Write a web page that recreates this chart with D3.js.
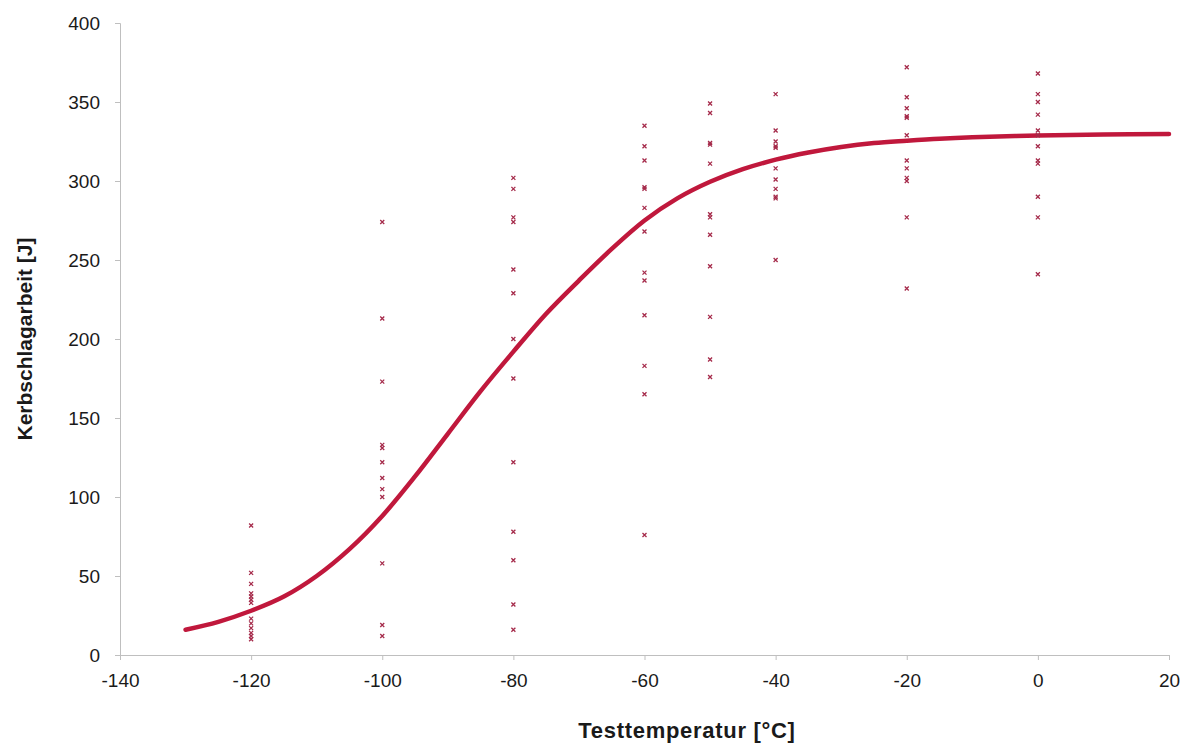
<!DOCTYPE html>
<html>
<head>
<meta charset="utf-8">
<script src="https://cdn.jsdelivr.net/npm/d3@7"></script>
<style>
    body { margin: 0; background: #fff; }
    text { font-family: "Liberation Sans", Arial, sans-serif; }
</style>
</head>
<body>
<svg id="chart" width="1191" height="745"></svg>
<script>
'use strict';

// measured impact energies per test temperature
var temps = [-120, -100, -80, -60, -50, -40, -20, 0];
var energies = [
    [82, 52, 45, 39, 37, 35, 33, 23, 20, 17, 14, 12, 10],
    [274, 213, 173, 133, 131, 122, 112, 105, 100, 58, 19, 12],
    [302, 295, 277, 274, 244, 229, 200, 175, 122, 78, 60, 32, 16],
    [335, 322, 313, 296, 295, 283, 268, 242, 237, 215, 183, 165, 76],
    [349, 343, 324, 323, 311, 279, 277, 266, 246, 214, 187, 176],
    [355, 332, 325, 322, 321, 308, 301, 295, 290, 289, 250],
    [372, 353, 346, 341, 340, 329, 313, 308, 302, 300, 277, 232],
    [368, 355, 350, 342, 332, 329, 322, 313, 311, 290, 277, 241]
];

// transition curve
var curveT = [-130, -125, -120, -115, -110, -105, -100, -95, -90, -85, -80, -75, -70, -65,
              -60, -55, -50, -45, -40, -35, -30, -25, -20, -15, -10, 0, 10, 20];
var curveE = [16, 21, 28, 37, 50, 67, 88, 113, 140, 167, 192, 216, 237, 257,
              275, 289, 299.5, 307.5, 313.5, 318, 321.5, 324, 325.5, 326.8, 327.7, 328.8, 329.4, 329.7];

var xTicks = [-140, -120, -100, -80, -60, -40, -20, 0, 20];
var yTicks = [0, 50, 100, 150, 200, 250, 300, 350, 400];

(function () {
    var svg = d3.select("#chart");
    var plotLeft = 120, plotRight = 1169, plotTop = 23, plotBottom = 655;

    var x = d3.scaleLinear().domain([-140, 20]).range([plotLeft, plotRight]);
    var y = d3.scaleLinear().domain([0, 400]).range([plotBottom, plotTop]);

    var axisColor = "#bfbfbf";

    var gx = svg.append("g")
        .attr("transform", "translate(0," + plotBottom + ")")
        .call(d3.axisBottom(x).tickValues(xTicks).tickFormat(String).tickSize(5).tickPadding(14));
    var gy = svg.append("g")
        .attr("transform", "translate(" + plotLeft + ",0)")
        .call(d3.axisLeft(y).tickValues(yTicks).tickFormat(String).tickSize(5).tickPadding(15));

    [gx, gy].forEach(function (g) {
        g.select(".domain").attr("stroke", axisColor);
        g.selectAll(".tick line").attr("stroke", axisColor);
        g.selectAll(".tick text")
            .attr("fill", "#1a1a1a")
            .style("font-size", "19px")
            .style("font-family", "'Liberation Sans', Arial, sans-serif");
    });

    // curve
    var line = d3.line()
        .x(function (d) { return x(d[0]); })
        .y(function (d) { return y(d[1]); })
        .curve(d3.curveCatmullRom);

    svg.append("path")
        .datum(d3.zip(curveT, curveE))
        .attr("d", line)
        .attr("fill", "none")
        .attr("stroke", "#c0183c")
        .attr("stroke-width", 4.5)
        .attr("stroke-linecap", "round");

    // measured points as small crosses
    var points = [];
    temps.forEach(function (t, i) {
        energies[i].forEach(function (e) {
            points.push([t, e]);
        });
    });

    var s = 2;
    svg.append("g").selectAll("path.pt")
        .data(points)
        .enter()
        .append("path")
        .attr("class", "pt")
        .attr("d", function (d) {
            var px = x(d[0]), py = y(d[1]);
            return "M" + (px - s) + "," + (py - s) + "L" + (px + s) + "," + (py + s) +
                "M" + (px - s) + "," + (py + s) + "L" + (px + s) + "," + (py - s);
        })
        .attr("stroke", "#a52a4a")
        .attr("stroke-width", 1.3);

    // axis titles
    svg.append("text")
        .attr("x", 687)
        .attr("y", 738)
        .attr("text-anchor", "middle")
        .style("font-size", "22px")
        .style("font-weight", "bold")
        .style("letter-spacing", "0.7px")
        .attr("fill", "#1a1a1a")
        .text("Testtemperatur [°C]");

    svg.append("text")
        .attr("transform", "translate(32," + ((plotTop + plotBottom) / 2) + ") rotate(-90)")
        .attr("text-anchor", "middle")
        .style("font-size", "21px")
        .style("font-weight", "bold")
        .attr("fill", "#1a1a1a")
        .text("Kerbschlagarbeit [J]");
})();
</script>
</body>
</html>
